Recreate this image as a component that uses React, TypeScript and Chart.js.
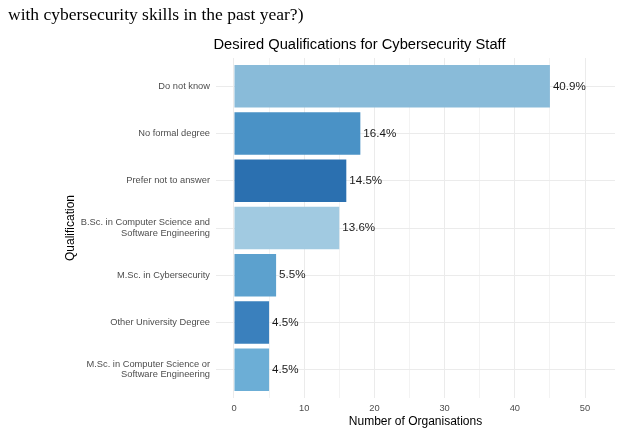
import React, { useEffect, useRef } from "react";
import { Chart, registerables } from "chart.js";

Chart.register(...registerables);

const chartTitle = "Desired Qualifications for Cybersecurity Staff";
const captionText = "with cybersecurity skills in the past year?)";
const xAxisTitle = "Number of Organisations";
const yAxisTitle = "Qualification";

const categories = [
  "Do not know",
  "No formal degree",
  "Prefer not to answer",
  "B.Sc. in Computer Science and\nSoftware Engineering",
  "M.Sc. in Cybersecurity",
  "Other University Degree",
  "M.Sc. in Computer Science or\nSoftware Engineering",
];
const counts = [45, 18, 16, 15, 6, 5, 5];
const barColors = [
  "#89BBD9",
  "#4A92C6",
  "#2B70B0",
  "#A1CAE1",
  "#5CA1CE",
  "#3A80BD",
  "#6CAED6",
];
const xMajorTicks = [0, 10, 20, 30, 40, 50];
const xGridTicks = [0, 5, 10, 15, 20, 25, 30, 35, 40, 45, 50];

export default function App() {
  const canvasRef = useRef<HTMLCanvasElement | null>(null);

  useEffect(() => {
    const canvas = canvasRef.current;
    if (!canvas) return;
    const total = counts.reduce((a, b) => a + b, 0);

    const valueLabels = {
      id: "valueLabels",
      afterDatasetsDraw(chart: any) {
        const ctx = chart.ctx;
        const meta = chart.getDatasetMeta(0);
        ctx.save();
        ctx.font = "11.6px 'Liberation Sans', Arial, sans-serif";
        ctx.fillStyle = "#1a1a1a";
        ctx.textAlign = "left";
        ctx.textBaseline = "middle";
        meta.data.forEach((bar: any, i: number) => {
          const pct = ((counts[i] / total) * 100).toFixed(1) + "%";
          ctx.fillText(pct, bar.x + 3, bar.y);
        });
        ctx.restore();
      },
    };

    const titlePlugin = {
      id: "plotTitle",
      afterDraw(chart: any) {
        const ctx = chart.ctx;
        ctx.save();
        ctx.font = "14.7px 'Liberation Sans', Arial, sans-serif";
        ctx.fillStyle = "#000000";
        ctx.textAlign = "center";
        ctx.textBaseline = "middle";
        ctx.fillText(chartTitle, 359.5, 45);
        ctx.restore();
      },
    };

    const chart = new Chart(canvas, {
      type: "bar",
      data: {
        datasets: [
          {
            data: counts.map((v, i) => ({ x: v, y: i })),
            backgroundColor: barColors,
            borderWidth: 0,
            barPercentage: 0.9,
            categoryPercentage: 1,
          },
        ],
      },
      options: {
        indexAxis: "y",
        responsive: false,
        animation: false,
        layout: { padding: { top: 58, left: 59, right: 5, bottom: 6 } },
        plugins: {
          legend: { display: false },
          tooltip: { enabled: false },
          title: { display: false },
        },
        scales: {
          x: {
            type: "linear",
            position: "bottom",
            min: -2.56,
            max: 54.27,
            bounds: "data",
            offset: false,
            border: { display: false },
            afterBuildTicks: (s: any) => {
              s.ticks = xGridTicks.map((v) => ({ value: v }));
            },
            grid: {
              offset: false,
              drawTicks: false,
              color: (c: any) =>
                c.tick && xMajorTicks.includes(c.tick.value) ? "#EBEBEB" : "#F3F3F3",
              lineWidth: 1,
            },
            ticks: {
              autoSkip: false,
              maxRotation: 0,
              padding: 5,
              color: "#4D4D4D",
              font: { family: "'Liberation Sans', Arial, sans-serif", size: 9.3 },
              callback: (v: any) => (xMajorTicks.includes(Number(v)) ? String(v) : ""),
            },
            title: {
              display: true,
              text: xAxisTitle,
              color: "#000000",
              font: { family: "'Liberation Sans', Arial, sans-serif", size: 12 },
              padding: { top: 0, bottom: 4 },
            },
            afterFit: (s: any) => {
              s.height = 35;
            },
          },
          y: {
            type: "linear",
            position: "left",
            reverse: true,
            min: -0.6,
            max: 6.6,
            bounds: "data",
            offset: false,
            border: { display: false },
            afterBuildTicks: (s: any) => {
              s.ticks = categories.map((_, i) => ({ value: i }));
            },
            grid: {
              offset: false,
              drawTicks: false,
              color: "#EBEBEB",
              lineWidth: 1,
            },
            ticks: {
              autoSkip: false,
              padding: 6,
              color: "#4D4D4D",
              font: {
                family: "'Liberation Sans', Arial, sans-serif",
                size: 9.3,
                lineHeight: 1.1,
              },
              callback: (v: any) => {
                const n = Math.round(Number(v));
                if (n < 0 || n >= categories.length) return "";
                return categories[n].split("\n");
              },
            },
            title: {
              display: true,
              text: yAxisTitle,
              color: "#000000",
              font: { family: "'Liberation Sans', Arial, sans-serif", size: 12 },
              padding: { top: 4, bottom: 0 },
            },
            afterFit: (s: any) => {
              s.width = 157;
            },
          },
        },
      },
      plugins: [valueLabels, titlePlugin],
    } as any);

    return () => chart.destroy();
  }, []);

  return (
    <div
      style={{
        position: "fixed",
        left: 0,
        top: 0,
        width: 620,
        height: 439,
        background: "#ffffff",
        overflow: "hidden",
      }}
    >
      <canvas
        ref={canvasRef}
        width={620}
        height={439}
        style={{ position: "absolute", left: 0, top: 0, width: 620, height: 439 }}
      />
      <div
        style={{
          position: "absolute",
          left: 8,
          top: 6,
          fontFamily: "'Liberation Serif', 'DejaVu Serif', serif",
          fontSize: 17.5,
          lineHeight: 1,
          color: "#000000",
          whiteSpace: "nowrap",
        }}
      >
        {captionText}
      </div>
    </div>
  );
}
